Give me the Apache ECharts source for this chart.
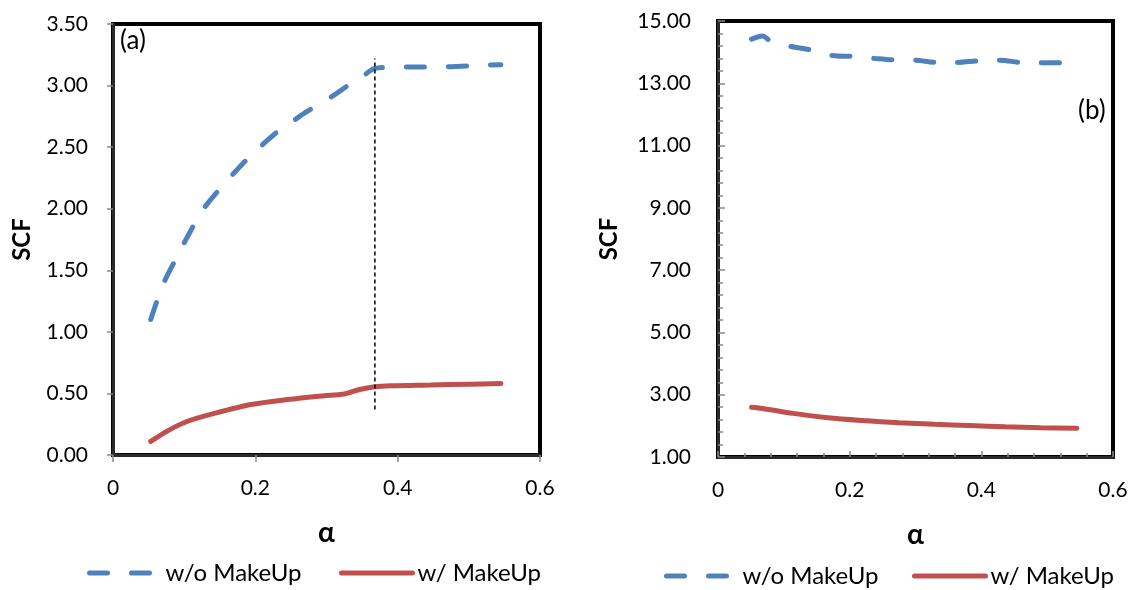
<!DOCTYPE html>
<html>
<head>
<meta charset="utf-8">
<script src="https://cdn.jsdelivr.net/npm/echarts@6/dist/echarts.min.js"></script>
<style>
html,body{margin:0;padding:0;background:#fff;}
#chart{width:1136px;height:590px;}
</style>
</head>
<body>
<div id="chart"></div>
<script>
// ---- Panel (a) data ----
var alphaA = [0.053, 0.07, 0.09, 0.11, 0.13, 0.15, 0.17, 0.19, 0.21, 0.23, 0.25, 0.27, 0.29, 0.31, 0.33, 0.35, 0.368, 0.40, 0.45, 0.50, 0.545];
var scfNoMakeUpA = [1.10, 1.38, 1.61, 1.83, 2.02, 2.16, 2.29, 2.41, 2.52, 2.62, 2.70, 2.78, 2.85, 2.92, 3.00, 3.07, 3.14, 3.15, 3.15, 3.16, 3.17];
var alphaA2 = [0.053, 0.078, 0.103, 0.144, 0.194, 0.245, 0.295, 0.325, 0.345, 0.368, 0.391, 0.446, 0.50, 0.545];
var scfMakeUpA = [0.11, 0.20, 0.27, 0.34, 0.41, 0.45, 0.48, 0.495, 0.53, 0.555, 0.563, 0.569, 0.575, 0.58];
var markerAlpha = 0.368;
var markerRange = [0.37, 3.22];

// ---- Panel (b) data ----
var alphaB = [0.051, 0.068, 0.079, 0.111, 0.141, 0.174, 0.205, 0.237, 0.268, 0.301, 0.331, 0.363, 0.395, 0.428, 0.46, 0.49, 0.53];
var scfNoMakeUpB = [14.42, 14.52, 14.37, 14.18, 14.07, 13.89, 13.86, 13.80, 13.75, 13.74, 13.67, 13.67, 13.72, 13.74, 13.67, 13.66, 13.66];
var alphaB2 = [0.051, 0.068, 0.114, 0.167, 0.221, 0.275, 0.329, 0.382, 0.436, 0.49, 0.545];
var scfMakeUpB = [2.60, 2.56, 2.40, 2.26, 2.17, 2.10, 2.05, 2.01, 1.97, 1.94, 1.92];

// ---- Labels ----
var seriesNames = ['w/o MakeUp', 'w/ MakeUp'];
var xName = 'α';
var yName = 'SCF';
var panelTags = ['(a)', '(b)'];

function pairs(xs, ys) { return xs.map(function (x, i) { return [x, ys[i]]; }); }

var BLUE = '#4F81BD', RED = '#C0504D';
var FONT = 'Lato';

var chart = echarts.init(document.getElementById('chart'), null, {renderer: 'canvas'});

function xAxisCfg(idx, inside) {
  return {
    type: 'value', gridIndex: idx, min: 0, max: 0.6, interval: 0.2,
    name: xName, nameLocation: 'middle', nameGap: 64,
    nameTextStyle: {fontFamily: FONT, fontSize: 28, fontWeight: 'bold', color: '#000'},
    axisLine: {show: true, lineStyle: {color: '#2a2a2a', width: 3}},
    axisTick: {show: true, inside: inside, length: inside ? 6 : 7, lineStyle: {color: '#888', width: 1.5}},
    minorTick: {show: inside, splitNumber: 5, length: 4, lineStyle: {color: '#888', width: 1.5}},
    axisLabel: {fontFamily: FONT, fontSize: 21, color: '#000', margin: 23},
    splitLine: {show: false}
  };
}
function yAxisCfg(idx, inside, max, interval, nameGap, margin) {
  return {
    type: 'value', gridIndex: idx, min: idx === 0 ? 0 : 1, max: max, interval: interval,
    name: yName, nameLocation: 'middle', nameGap: nameGap, nameRotate: 90,
    nameTextStyle: {fontFamily: FONT, fontSize: 24, fontWeight: 'bold', color: '#000'},
    axisLine: {show: true, lineStyle: {color: '#2a2a2a', width: 3}},
    axisTick: {show: true, inside: inside, length: inside ? 7 : 6, lineStyle: {color: '#888', width: 1.5}},
    minorTick: {show: inside, splitNumber: 5, length: 5, lineStyle: {color: '#888', width: 1.5}},
    axisLabel: {fontFamily: FONT, fontSize: 21, color: '#000', margin: margin,
      formatter: function (v) { return v.toFixed(2); }},
    splitLine: {show: false}
  };
}

var dashStyle = {color: BLUE, width: 5, type: [18, 24], cap: 'round'};
var solidStyle = {color: RED, width: 5, cap: 'round'};

function legendCfg(name, left, top) {
  return {
    data: [name], left: left, top: top, itemWidth: 71, itemHeight: 14,
    itemStyle: {opacity: 0},
    lineStyle: {width: 5},
    textStyle: {fontFamily: FONT, fontSize: 24, color: '#000'},
    selectedMode: false
  };
}

var option = {
  animation: false,
  backgroundColor: '#fff',
  grid: [
    {left: 113, top: 24, width: 427, height: 431, show: true, borderColor: '#000', borderWidth: 4, outerBoundsMode: 'none'},
    {left: 718, top: 21, width: 395, height: 436, show: true, borderColor: '#000', borderWidth: 4, outerBoundsMode: 'none'}
  ],
  xAxis: [xAxisCfg(0, false), xAxisCfg(1, true)],
  yAxis: [yAxisCfg(0, false, 3.5, 0.5, 79, 25), yAxisCfg(1, true, 15, 2, 97, 27)],
  legend: [
    legendCfg(seriesNames[0], 82, 556),
    legendCfg(seriesNames[1], 334, 556),
    legendCfg(seriesNames[0], 659, 559),
    legendCfg(seriesNames[1], 907, 559)
  ],
  graphic: [
    {type: 'text', left: 120, top: 28, style: {text: panelTags[0], fontFamily: FONT, fontSize: 26, fill: '#000'}},
    {type: 'text', left: 1078, top: 98, style: {text: panelTags[1], fontFamily: FONT, fontSize: 26, fill: '#000'}}
  ],
  series: [
    {name: seriesNames[0], type: 'line', xAxisIndex: 0, yAxisIndex: 0, data: pairs(alphaA, scfNoMakeUpA),
      smooth: 0.3, showSymbol: false, symbol: 'none', lineStyle: dashStyle, itemStyle: {color: BLUE}, z: 3},
    {name: seriesNames[1], type: 'line', xAxisIndex: 0, yAxisIndex: 0, data: pairs(alphaA2, scfMakeUpA),
      smooth: 0.3, showSymbol: false, symbol: 'none', lineStyle: solidStyle, itemStyle: {color: RED}, z: 3},
    {name: 'marker', type: 'line', xAxisIndex: 0, yAxisIndex: 0,
      data: [[markerAlpha, markerRange[0]], [markerAlpha, markerRange[1]]],
      showSymbol: false, symbol: 'none', lineStyle: {color: '#000', width: 1.5, type: [4, 3]}, z: 4, silent: true},
    {name: seriesNames[0], type: 'line', xAxisIndex: 1, yAxisIndex: 1, data: pairs(alphaB, scfNoMakeUpB),
      smooth: 0.3, showSymbol: false, symbol: 'none', lineStyle: dashStyle, itemStyle: {color: BLUE}, z: 3},
    {name: seriesNames[1], type: 'line', xAxisIndex: 1, yAxisIndex: 1, data: pairs(alphaB2, scfMakeUpB),
      smooth: 0.3, showSymbol: false, symbol: 'none', lineStyle: solidStyle, itemStyle: {color: RED}, z: 3}
  ]
};
chart.setOption(option);
</script>
</body>
</html>
